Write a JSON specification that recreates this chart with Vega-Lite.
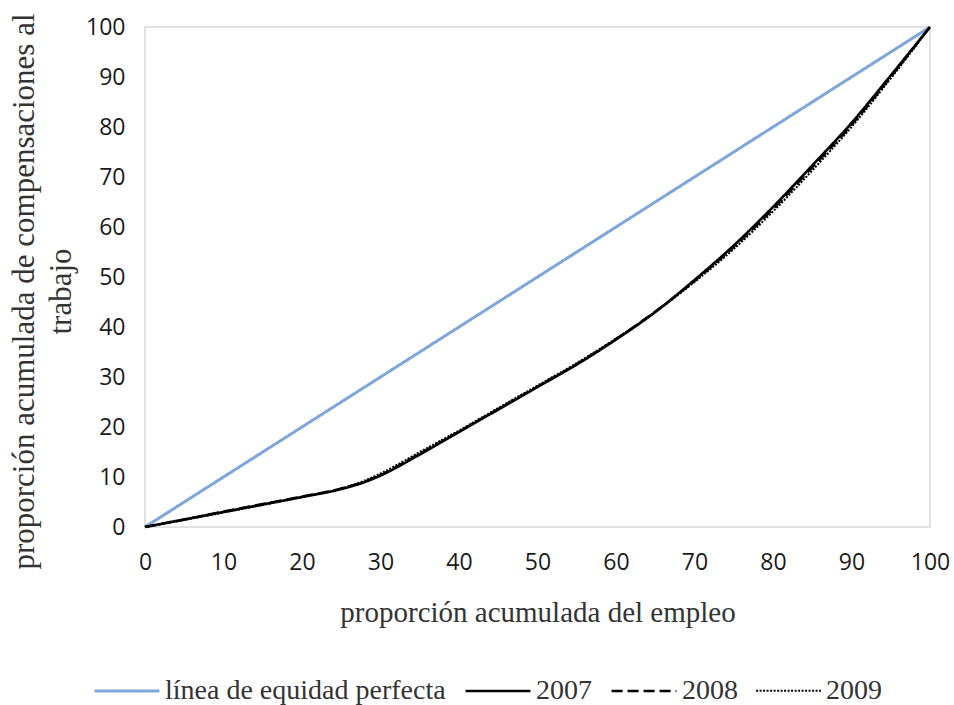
{
  "$schema": "https://vega.github.io/schema/vega-lite/v6.json",
  "width": 785,
  "height": 500,
  "autosize": {"type": "none"},
  "padding": {"left": 145, "top": 27, "right": 24, "bottom": 178},
  "background": "white",
  "config": {
    "view": {"stroke": "#D9D9D9", "strokeWidth": 1.5},
    "axis": {"grid": false, "domain": false, "ticks": false}
  },
  "datasets": {
    "pts": [
      {"x": 0, "y": 0, "serie": "línea de equidad perfecta"},
      {"x": 100, "y": 100, "serie": "línea de equidad perfecta"},
      {"x": 0, "y": 0, "serie": "2007"}, {"x": 5, "y": 1.5, "serie": "2007"}, {"x": 10, "y": 3, "serie": "2007"}, {"x": 15, "y": 4.5, "serie": "2007"}, {"x": 20, "y": 6, "serie": "2007"}, {"x": 25, "y": 7.6, "serie": "2007"}, {"x": 28, "y": 9, "serie": "2007"}, {"x": 30, "y": 10.3, "serie": "2007"}, {"x": 35, "y": 14.5, "serie": "2007"}, {"x": 40, "y": 19, "serie": "2007"}, {"x": 45, "y": 23.5, "serie": "2007"}, {"x": 50, "y": 28, "serie": "2007"}, {"x": 55, "y": 32.5, "serie": "2007"}, {"x": 60, "y": 37.5, "serie": "2007"}, {"x": 65, "y": 43, "serie": "2007"}, {"x": 70, "y": 49.4, "serie": "2007"}, {"x": 75, "y": 56.3, "serie": "2007"}, {"x": 80, "y": 64, "serie": "2007"}, {"x": 85, "y": 72.3, "serie": "2007"}, {"x": 90, "y": 80.8, "serie": "2007"}, {"x": 95, "y": 90.3, "serie": "2007"}, {"x": 100, "y": 100, "serie": "2007"},
      {"x": 0, "y": 0, "serie": "2008"}, {"x": 5, "y": 1.5, "serie": "2008"}, {"x": 10, "y": 3.1, "serie": "2008"}, {"x": 15, "y": 4.6, "serie": "2008"}, {"x": 20, "y": 6.1, "serie": "2008"}, {"x": 25, "y": 7.7, "serie": "2008"}, {"x": 28, "y": 9.1, "serie": "2008"}, {"x": 30, "y": 10.4, "serie": "2008"}, {"x": 35, "y": 14.7, "serie": "2008"}, {"x": 40, "y": 19.1, "serie": "2008"}, {"x": 45, "y": 23.6, "serie": "2008"}, {"x": 50, "y": 28.1, "serie": "2008"}, {"x": 55, "y": 32.6, "serie": "2008"}, {"x": 60, "y": 37.6, "serie": "2008"}, {"x": 65, "y": 43.1, "serie": "2008"}, {"x": 70, "y": 49.2, "serie": "2008"}, {"x": 75, "y": 56, "serie": "2008"}, {"x": 80, "y": 63.6, "serie": "2008"}, {"x": 85, "y": 71.9, "serie": "2008"}, {"x": 90, "y": 80.4, "serie": "2008"}, {"x": 95, "y": 90, "serie": "2008"}, {"x": 100, "y": 100, "serie": "2008"},
      {"x": 0, "y": 0, "serie": "2009"}, {"x": 5, "y": 1.4, "serie": "2009"}, {"x": 10, "y": 2.9, "serie": "2009"}, {"x": 15, "y": 4.4, "serie": "2009"}, {"x": 20, "y": 6, "serie": "2009"}, {"x": 25, "y": 7.7, "serie": "2009"}, {"x": 28, "y": 9.3, "serie": "2009"}, {"x": 30, "y": 10.7, "serie": "2009"}, {"x": 35, "y": 15, "serie": "2009"}, {"x": 40, "y": 19.3, "serie": "2009"}, {"x": 45, "y": 23.8, "serie": "2009"}, {"x": 50, "y": 28.3, "serie": "2009"}, {"x": 55, "y": 32.8, "serie": "2009"}, {"x": 60, "y": 37.7, "serie": "2009"}, {"x": 65, "y": 43, "serie": "2009"}, {"x": 70, "y": 49, "serie": "2009"}, {"x": 75, "y": 55.6, "serie": "2009"}, {"x": 80, "y": 63.1, "serie": "2009"}, {"x": 85, "y": 71.3, "serie": "2009"}, {"x": 90, "y": 80, "serie": "2009"}, {"x": 95, "y": 89.7, "serie": "2009"}, {"x": 100, "y": 100, "serie": "2009"}
    ]
  },
  "data": {"name": "pts"},
  "mark": {"type": "line", "interpolate": "monotone"},
  "encoding": {
    "x": {
      "field": "x", "type": "quantitative",
      "scale": {"domain": [0, 100], "nice": false},
      "axis": {"values": [0,10,20,30,40,50,60,70,80,90,100], "labelFont": "Open Sans", "labelFontSize": 23, "labelColor": "#1a1a1a", "labelPadding": 24, "title": "proporción acumulada del empleo", "titleFont": "Liberation Serif", "titleFontSize": 29, "titleFontWeight": "normal", "titleColor": "#333333", "titlePadding": 24, "labelFlush": false}
    },
    "y": {
      "field": "y", "type": "quantitative",
      "scale": {"domain": [0, 100], "nice": false},
      "axis": {"values": [0,10,20,30,40,50,60,70,80,90,100], "labelFont": "Open Sans", "labelFontSize": 23, "labelColor": "#1a1a1a", "labelPadding": 20, "title": ["proporción acumulada de compensaciones al", "trabajo"], "titleFont": "Liberation Serif", "titleFontSize": 31, "titleFontWeight": "normal", "titleColor": "#333333", "titlePadding": 8, "titleLineHeight": 37, "titleY": 264}
    },
    "color": {
      "field": "serie", "type": "nominal",
      "sort": ["línea de equidad perfecta", "2007", "2008", "2009"],
      "scale": {"domain": ["línea de equidad perfecta", "2007", "2008", "2009"], "range": ["#7EA6DB", "#000000", "#000000", "#000000"]},
      "legend": {"title": null, "orient": "none", "legendX": -52, "legendY": 630, "direction": "horizontal", "symbolType": "stroke", "symbolSize": 4200, "symbolStrokeWidth": 3, "labelFont": "Liberation Serif", "labelFontSize": 28, "labelColor": "#333333", "columnPadding": 14, "labelOffset": 4, "labelLimit": 400}
    },
    "strokeDash": {
      "field": "serie", "type": "nominal",
      "sort": ["línea de equidad perfecta", "2007", "2008", "2009"],
      "scale": {"domain": ["línea de equidad perfecta", "2007", "2008", "2009"], "range": [[1, 0], [1, 0], [11, 5], [2, 1.5]]},
      "legend": {"title": null, "orient": "none", "legendX": -52, "legendY": 630, "direction": "horizontal", "symbolType": "stroke", "symbolSize": 4200, "symbolStrokeWidth": 3, "labelFont": "Liberation Serif", "labelFontSize": 28, "labelColor": "#333333", "columnPadding": 14, "labelOffset": 4, "labelLimit": 400}
    },
    "strokeWidth": {
      "field": "serie", "type": "nominal",
      "scale": {"domain": ["línea de equidad perfecta", "2007", "2008", "2009"], "range": [3, 2, 2, 2]},
      "legend": null
    }
  }
}
